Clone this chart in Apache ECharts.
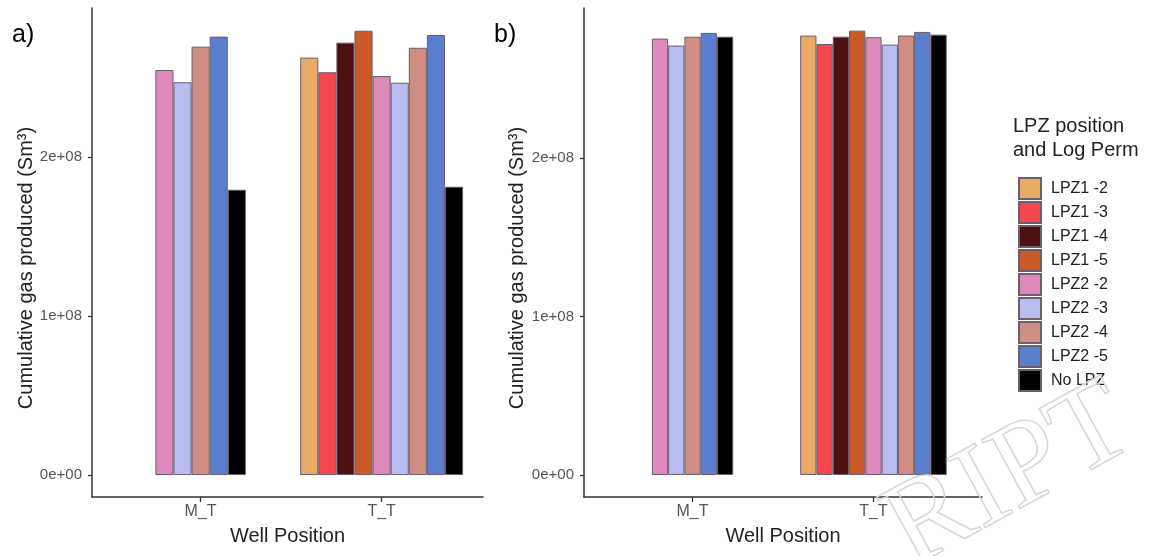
<!DOCTYPE html>
<html>
<head>
<meta charset="utf-8">
<script src="https://cdn.jsdelivr.net/npm/echarts@6/dist/echarts.min.js"></script>
<style>
  html, body { margin: 0; padding: 0; background: #fff; }
  #chart { width: 1154px; height: 556px; }
</style>
</head>
<body>
<div id="chart"></div>
<script>
// well positions (x categories) and LPZ groups (fill legend)
const wells = ['M_T', 'T_T']
const groups = ['LPZ1 -2', 'LPZ1 -3', 'LPZ1 -4', 'LPZ1 -5', 'LPZ2 -2', 'LPZ2 -3', 'LPZ2 -4', 'LPZ2 -5', 'No LPZ']

// cumulative gas produced (Sm3), one value per group, null = no run
const aMT = [null, null, null, null, 2.547e8, 2.470e8, 2.694e8, 2.757e8, 1.794e8]
const aTT = [2.625e8, 2.533e8, 2.719e8, 2.794e8, 2.509e8, 2.467e8, 2.687e8, 2.767e8, 1.813e8]
const bMT = [null, null, null, null, 2.753e8, 2.709e8, 2.765e8, 2.789e8, 2.765e8]
const bTT = [2.772e8, 2.719e8, 2.765e8, 2.803e8, 2.762e8, 2.715e8, 2.772e8, 2.795e8, 2.778e8]

const yTicks = [0, 1e8, 2e8]

const colors = ['#E8AA64', '#F5474F', '#4E1113', '#C85B26', '#DD89BC', '#B8BCF1', '#CF8E81', '#5B7FCF', '#000000']
const border = '#6c5e6e'
const axisColor = '#333333'
const tickText = '#555555'

// panel layout (px), x range in well units
const panels = [
  { left: 92, right: 671, xMax: 2.56, yMin: -0.138e8, yMax: 2.937e8, dodge: 0.1, rows: [aMT, aTT] },
  { left: 584, right: 172, xMax: 2.6, yMin: -0.139e8, yMax: 2.946e8, dodge: 0.09, rows: [bMT, bTT] }
]

function sci(v) {
  if (v === 0) return '0e+00'
  const e = Math.floor(Math.log10(Math.abs(v)))
  const m = Math.round(v / Math.pow(10, e))
  return m + 'e+' + String(e).padStart(2, '0')
}

const chart = echarts.init(document.getElementById('chart'))
const W = 1154

const grids = [], xAxes = [], yAxes = [], series = []
panels.forEach((p, pi) => {
  grids.push({ left: p.left, right: p.right, top: 8, bottom: 59, containLabel: false })
  const pxPerUnit = (W - p.left - p.right) / (p.xMax - 0.4)
  xAxes.push({
    gridIndex: pi, type: 'value', min: 0.4, max: p.xMax,
    splitLine: { show: false },
    axisLine: { show: true, onZero: false, lineStyle: { color: axisColor, width: 1.5 } },
    axisTick: { show: true, customValues: [1, 2], length: 5, lineStyle: { color: axisColor, width: 1.3 } },
    axisLabel: {
      customValues: [1, 2], margin: 7, fontSize: 16, color: tickText,
      formatter: v => wells[Math.round(v) - 1]
    },
    name: 'Well Position', nameLocation: 'middle', nameGap: 29,
    nameTextStyle: { fontSize: 20, color: '#222' }
  })
  yAxes.push({
    gridIndex: pi, type: 'value', min: p.yMin, max: p.yMax,
    splitLine: { show: false },
    axisLine: { show: true, onZero: false, lineStyle: { color: axisColor, width: 1.5 } },
    axisTick: { show: true, customValues: yTicks, length: 4, lineStyle: { color: axisColor, width: 1.3 } },
    axisLabel: { customValues: yTicks, margin: 10, fontSize: 15, color: tickText, formatter: sci }
  })
  // dodge the present bars of each well around its position
  const xs = p.rows.map((row, wi) => {
    const present = groups.map((g, gi) => gi).filter(gi => row[gi] != null)
    const pos = {}
    present.forEach((gi, k) => { pos[gi] = wi + 1 + (k - (present.length - 1) / 2) * p.dodge })
    return pos
  })
  groups.forEach((g, gi) => {
    const data = []
    p.rows.forEach((row, wi) => {
      if (row[gi] != null) data.push([xs[wi][gi], row[gi]])
    })
    series.push({
      name: g, type: 'bar', xAxisIndex: pi, yAxisIndex: pi,
      data: data,
      barWidth: p.dodge * pxPerUnit,
      barGap: '-100%',
      itemStyle: { color: colors[gi], borderColor: border, borderWidth: 1 },
      emphasis: { disabled: true }
    })
  })
})

const yTitle = 'Cumulative gas produced (Sm³)'

chart.setOption({
  animation: false,
  textStyle: { fontFamily: 'Liberation Sans' },
  grid: grids,
  xAxis: xAxes,
  yAxis: yAxes,
  series: series,
  legend: {
    data: groups,
    orient: 'vertical',
    left: 1013, top: 172,
    itemWidth: 22, itemHeight: 21, itemGap: 1,
    icon: 'rect',
    textStyle: { fontSize: 16, lineHeight: 18, color: '#222', padding: [0, 0, 0, 5] },
    selectedMode: false
  },
  graphic: [
    // faint manuscript watermark in the corner
    { type: 'text', x: 1010, y: 478, rotation: 0.5, z: 100,
      style: { text: 'RIPT', fontSize: 120, fontFamily: 'Liberation Serif', fill: 'rgba(255,255,255,0)', stroke: '#d6d6d6', lineWidth: 1.5, align: 'center', verticalAlign: 'middle' } },
    { type: 'text', left: 12, top: 23, style: { text: 'a)', fontSize: 25, fill: '#000', fontFamily: 'Liberation Sans' } },
    { type: 'text', left: 494, top: 23, style: { text: 'b)', fontSize: 25, fill: '#000', fontFamily: 'Liberation Sans' } },
    { type: 'text', x: 26, y: 268, rotation: Math.PI / 2,
      style: { text: yTitle, fontSize: 20, fill: '#222', fontFamily: 'Liberation Sans', align: 'center', verticalAlign: 'middle' } },
    { type: 'text', x: 517, y: 268, rotation: Math.PI / 2,
      style: { text: yTitle, fontSize: 20, fill: '#222', fontFamily: 'Liberation Sans', align: 'center', verticalAlign: 'middle' } },
    { type: 'text', left: 1013, top: 114,
      style: { text: 'LPZ position\nand Log Perm', fontSize: 20, lineHeight: 24, fill: '#222', fontFamily: 'Liberation Sans' } }
  ]
})
</script>
</body>
</html>
